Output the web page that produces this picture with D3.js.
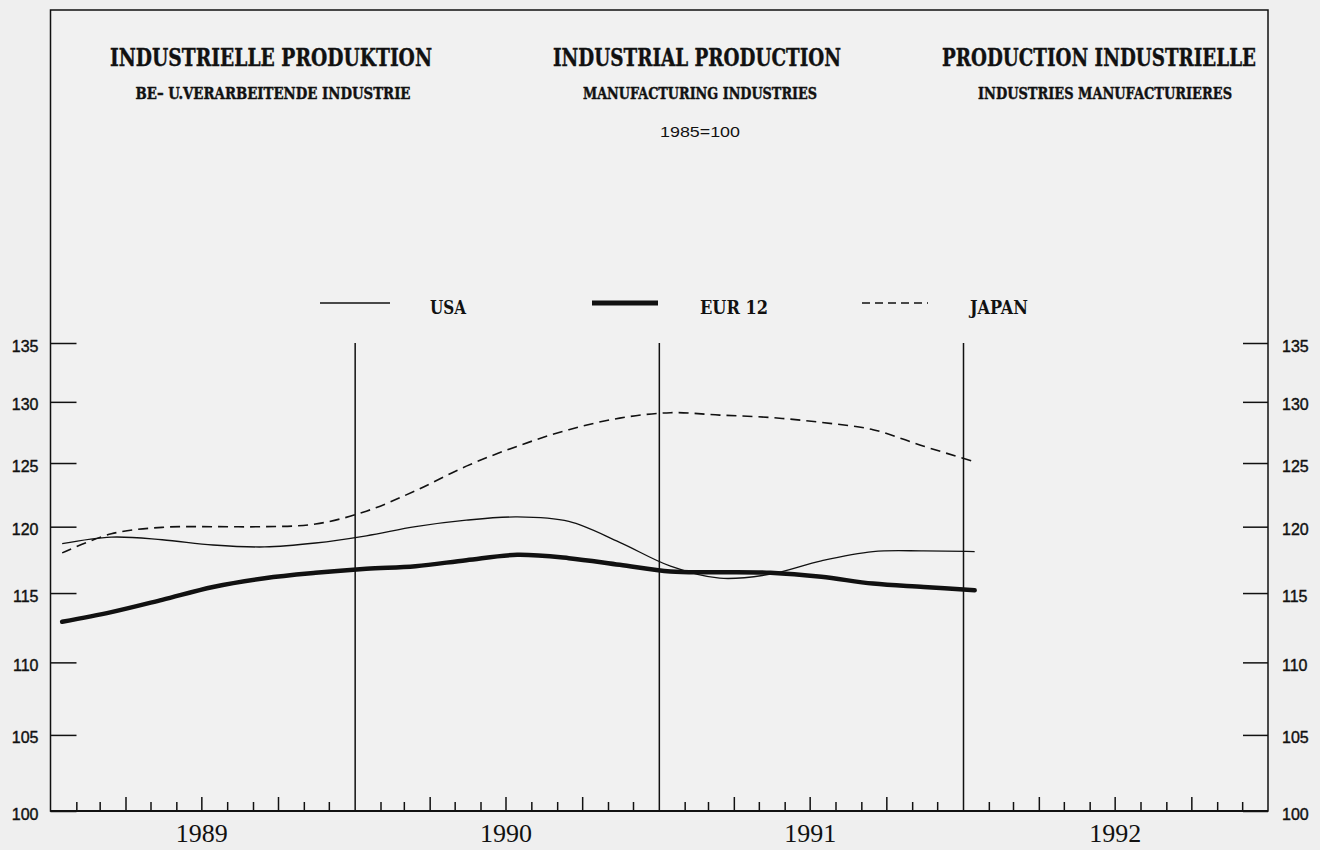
<!DOCTYPE html>
<html>
<head>
<meta charset="utf-8">
<script src="https://cdn.jsdelivr.net/npm/d3@7"></script>
<style>
  body { margin: 0; background: #efefef; }
  svg { display: block; }
  .ttl { font-family: "DejaVu Serif Condensed", "DejaVu Serif", serif; font-weight: bold; fill: #111; }
  .num { font-family: "Liberation Sans", Arial, sans-serif; fill: #111; }
  .yr { font-family: "Liberation Serif", "Times New Roman", serif; fill: #111; }
</style>
</head>
<body>
<div id="chart"></div>
<script>
// mid-month dates, every second month, Jan 1989 .. Jan 1992
var months = ["1989-01-15", "1989-03-15", "1989-05-15", "1989-07-15", "1989-09-15", "1989-11-15",
              "1990-01-15", "1990-03-15", "1990-05-15", "1990-07-15", "1990-09-15", "1990-11-15",
              "1991-01-15", "1991-03-15", "1991-05-15", "1991-07-15", "1991-09-15", "1991-11-15",
              "1992-01-15"];

// index values, 1985=100
var usa   = [118.7, 119.2, 119.0, 118.6, 118.45, 118.75, 119.3, 120.0, 120.5, 120.75,
             120.4, 118.8, 117.0, 116.1, 116.4, 117.4, 118.1, 118.15, 118.1];
var eur12 = [112.9, 113.6, 114.5, 115.45, 116.1, 116.5, 116.8, 117.0, 117.45, 117.85,
             117.6, 117.1, 116.6, 116.55, 116.5, 116.2, 115.7, 115.45, 115.2];
var japan = [118.0, 119.45, 119.95, 120.0, 120.0, 120.2, 121.2, 122.8, 124.75, 126.35,
             127.7, 128.65, 129.1, 128.9, 128.7, 128.3, 127.7, 126.35, 125.1];

var yTicks = [100, 105, 110, 115, 120, 125, 130, 135];
var years = [1989, 1990, 1991, 1992];

var parseDate = d3.timeParse("%Y-%m-%d");

var width = 1320, height = 850;
var mLeft = 50.5, mRight = 1268, mTop = 10, mBottom = 811, yTop = 343;

var svg = d3.select("#chart").append("svg")
    .attr("width", width)
    .attr("height", height);

// scales - the y axis of the original is logarithmic
var x = d3.scaleTime()
    .domain([new Date(1989, 0, 1), new Date(1993, 0, 1)])
    .range([mLeft, mRight]);
var y = d3.scaleLog()
    .domain([100, 135])
    .range([mBottom, yTop]);

// frame
svg.append("rect")
    .attr("x", mLeft).attr("y", mTop)
    .attr("width", mRight - mLeft).attr("height", mBottom - mTop)
    .attr("fill", "#f1f1f1")
    .attr("stroke", "#111")
    .attr("stroke-width", 1.5);

// titles
var titles = [
  {t: "INDUSTRIELLE PRODUKTION", x: 271, y: 66, w: 322, s: 25},
  {t: "INDUSTRIAL PRODUCTION", x: 697, y: 66, w: 288, s: 25},
  {t: "PRODUCTION INDUSTRIELLE", x: 1099, y: 66, w: 314, s: 25},
  {t: "BE\u2013 U.VERARBEITENDE INDUSTRIE", x: 273, y: 99, w: 275, s: 16},
  {t: "MANUFACTURING INDUSTRIES", x: 700, y: 99, w: 234, s: 16},
  {t: "INDUSTRIES MANUFACTURIERES", x: 1105, y: 99, w: 254, s: 16}
];
svg.selectAll("text.ttl").data(titles).enter().append("text")
    .attr("class", "ttl")
    .attr("x", function(d) { return d.x; })
    .attr("y", function(d) { return d.y; })
    .attr("text-anchor", "middle")
    .attr("font-size", function(d) { return d.s; })
    .attr("stroke", "#111")
    .attr("stroke-width", 0.4)
    .attr("textLength", function(d) { return d.w; })
    .attr("lengthAdjust", "spacingAndGlyphs")
    .text(function(d) { return d.t; });

svg.append("text")
    .attr("class", "num")
    .attr("x", 700).attr("y", 137)
    .attr("text-anchor", "middle")
    .attr("font-size", 15)
    .attr("textLength", 80)
    .attr("lengthAdjust", "spacingAndGlyphs")
    .text("1985=100");

// legend
var legend = [
  {name: "USA", x1: 320, x2: 390, tx: 430, tw: 36, sw: 1.3, dash: null},
  {name: "EUR 12", x1: 592, x2: 658, tx: 700, tw: 68, sw: 5, dash: null},
  {name: "JAPAN", x1: 862, x2: 928, tx: 970, tw: 58, sw: 1.5, dash: "8,5"}
];
var lg = svg.selectAll("g.legend").data(legend).enter().append("g").attr("class", "legend");
lg.append("line")
    .attr("x1", function(d) { return d.x1; })
    .attr("x2", function(d) { return d.x2; })
    .attr("y1", 303).attr("y2", 303)
    .attr("stroke", "#111")
    .attr("stroke-width", function(d) { return d.sw; })
    .attr("stroke-dasharray", function(d) { return d.dash; });
lg.append("text")
    .attr("class", "ttl")
    .attr("x", function(d) { return d.tx; })
    .attr("y", 314)
    .attr("font-size", 19)
    .attr("textLength", function(d) { return d.tw; })
    .attr("lengthAdjust", "spacingAndGlyphs")
    .text(function(d) { return d.name; });

// y axes, ticks drawn inwards
var yLeft = svg.append("g")
    .attr("transform", "translate(" + mLeft + ",0)")
    .call(d3.axisLeft(y).tickValues(yTicks).tickSize(-26).tickSizeOuter(0).tickPadding(12).tickFormat(d3.format("d")));
var yRight = svg.append("g")
    .attr("transform", "translate(" + mRight + ",0)")
    .call(d3.axisRight(y).tickValues(yTicks).tickSize(-25).tickSizeOuter(0).tickPadding(14).tickFormat(d3.format("d")));
[yLeft, yRight].forEach(function(g) {
  g.select(".domain").remove();
  g.selectAll(".tick line").attr("stroke", "#111").attr("stroke-width", 1.5);
  g.selectAll(".tick text")
      .attr("class", "num")
      .attr("font-size", 16)
      .attr("stroke", "#111")
      .attr("stroke-width", 0.4)
      .attr("dy", "0.5em");
});

// month ticks along the bottom
var allMonths = d3.timeMonth.range(new Date(1989, 0, 1), new Date(1993, 0, 1));
var monthTicks = allMonths.filter(function(d) { return d.getMonth() % 3 !== 0; });
var quarterTicks = allMonths.filter(function(d) { return d.getMonth() % 3 === 0 && d.getMonth() !== 0; });
var yearStarts = years.slice(1).map(function(yr) { return new Date(yr, 0, 1); });
var yearMids = years.map(function(yr) { return new Date(yr, 6, 1); });

function bottomAxis(values, size) {
  var g = svg.append("g")
      .attr("transform", "translate(0," + mBottom + ")")
      .call(d3.axisBottom(x).tickValues(values).tickSize(size).tickSizeOuter(0).tickFormat(""));
  g.select(".domain").remove();
  g.selectAll(".tick line").attr("stroke", "#111").attr("stroke-width", 1.5);
  return g;
}
bottomAxis(monthTicks, -9);
bottomAxis(quarterTicks, -14);
bottomAxis(yearStarts, -(mBottom - yTop));

// year labels
var xl = svg.append("g")
    .attr("transform", "translate(0," + mBottom + ")")
    .call(d3.axisBottom(x).tickValues(yearMids).tickSize(0).tickPadding(13).tickFormat(d3.timeFormat("%Y")));
xl.select(".domain").remove();
xl.selectAll(".tick text").attr("class", "yr").attr("font-size", 26);

// the lines
var data = months.map(function(m, i) {
  return {date: parseDate(m), usa: usa[i], eur: eur12[i], jap: japan[i]};
});
function line(key) {
  return d3.line()
      .curve(d3.curveCatmullRom.alpha(0.5))
      .x(function(d) { return x(d.date); })
      .y(function(d) { return y(d[key]); });
}
svg.append("path").datum(data)
    .attr("d", line("jap"))
    .attr("fill", "none").attr("stroke", "#111")
    .attr("stroke-width", 1.6).attr("stroke-dasharray", "10,6");
svg.append("path").datum(data)
    .attr("d", line("usa"))
    .attr("fill", "none").attr("stroke", "#111")
    .attr("stroke-width", 1.3);
svg.append("path").datum(data)
    .attr("d", line("eur"))
    .attr("fill", "none").attr("stroke", "#111")
    .attr("stroke-width", 4.5).attr("stroke-linecap", "round");

// bottom axis line on top
svg.append("line")
    .attr("x1", mLeft).attr("x2", mRight)
    .attr("y1", mBottom).attr("y2", mBottom)
    .attr("stroke", "#111").attr("stroke-width", 2);
</script>
</body>
</html>
